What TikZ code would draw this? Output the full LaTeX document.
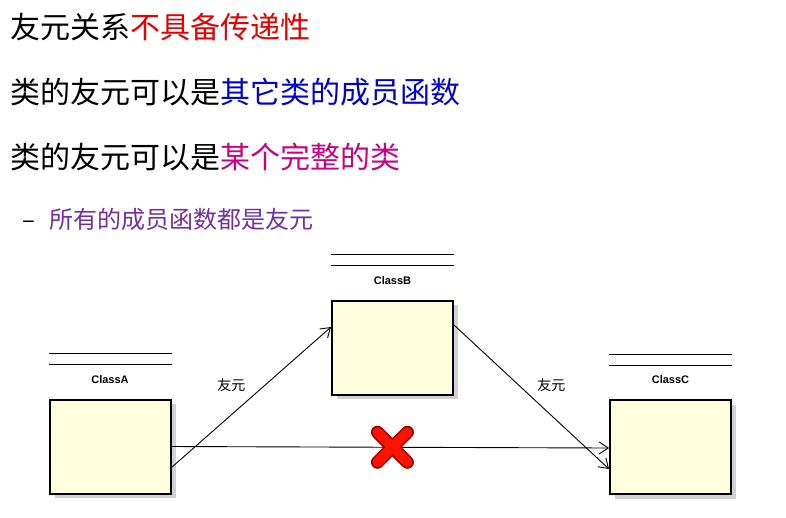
\documentclass[tikz,border=0pt]{standalone}
\usepackage{fontspec}
\setsansfont{Liberation Sans}
\newfontfamily\cjk{Noto Sans CJK SC}
\usetikzlibrary{arrows.meta,calc}
\definecolor{boxfill}{RGB}{255,255,222}
\definecolor{redtxt}{RGB}{230,0,0}
\definecolor{bluetxt}{RGB}{0,0,200}
\definecolor{pinktxt}{RGB}{200,0,130}
\definecolor{purpletxt}{RGB}{112,48,160}
\tikzset{every picture/.style={line width=0.75pt}}
\tikzset{
  classbox/.style={draw, line width=2pt, fill=boxfill, minimum width=121pt, minimum height=94pt, inner sep=0pt},
  shadowbox/.style={fill=black!18, minimum width=121pt, minimum height=94pt, inner sep=0pt},
  friend/.style={-{Straight Barb[length=9pt,width=12pt]}, line width=0.9pt},
}

\begin{document}
\begin{tikzpicture}[x=1pt,y=1pt,yscale=-1,xscale=1]
    \useasboundingbox (0,0) rectangle (786,517);

    % Text Node
    \node [anchor=west, inner sep=0pt] (t1) at (10,27) {\cjk\fontsize{30}{36}\selectfont 友元关系\textcolor{redtxt}{不具备传递性}};
    % Text Node
    \node [anchor=west, inner sep=0pt] (t2) at (10,92) {\cjk\fontsize{30}{36}\selectfont 类的友元可以是\textcolor{bluetxt}{其它类的成员函数}};
    % Text Node
    \node [anchor=west, inner sep=0pt] (t3) at (10,157) {\cjk\fontsize{30}{36}\selectfont 类的友元可以是\textcolor{pinktxt}{某个完整的类}};
    % Text Node
    \node [anchor=west, inner sep=0pt] (t4) at (22,219) {\cjk\fontsize{24}{30}\selectfont –\hspace{14pt}\textcolor{purpletxt}{所有的成员函数都是友元}};

    %Shape: Class boxes
    \node [shadowbox] at (115,451) {};
    \node [shadowbox] at (397,352) {};
    \node [shadowbox] at (675,452) {};
    \node [classbox] (a) at (110,446.5) {};
    \node [classbox] (b) at (392.5,347.5) {};
    \node [classbox] (c) at (670.5,447) {};
    \foreach \n/\t in {a/ClassA, b/ClassB, c/ClassC} {
        \node [font=\sffamily\bfseries\fontsize{11}{13}\selectfont] (\n-name) at ([yshift=-19pt]\n.north) {\t};
        \draw ([yshift=-34pt]\n.north west) -- ([yshift=-34pt]\n.north east);
        \draw ([yshift=-45pt]\n.north west) -- ([yshift=-45pt]\n.north east);
    }

    %Straight Lines
    \coordinate (a1) at ([yshift=21pt]a.east);
    \coordinate (a2) at (a.east);
    \coordinate (b1) at ([yshift=-20.5pt]b.west);
    \coordinate (b2) at ([yshift=-22.5pt]b.east);
    \coordinate (c1) at ([yshift=22pt]c.west);
    \coordinate (c2) at ([yshift=1pt]c.west);
    \draw [friend] (a1) -- (b1) node [midway, above left=2pt, font=\cjk\fontsize{14}{16}\selectfont] (ab) {友元};
    \draw [friend] (b2) -- (c1) node [midway, above right=2pt, font=\cjk\fontsize{14}{16}\selectfont] (bc) {友元};
    \draw [friend] (a2) -- (c2);

    %Shape: Cross
    \coordinate (x) at ($ (a2)!0.505!(c2) $);
    \draw [line width=13pt, line cap=round, red!55!black] ([shift={(-15,-15)}]x) -- ([shift={(15,15)}]x) ([shift={(-15,15)}]x) -- ([shift={(15,-15)}]x);
    \draw [line width=10pt, line cap=round, red!85!orange] ([shift={(-15,-15)}]x) -- ([shift={(15,15)}]x) ([shift={(-15,15)}]x) -- ([shift={(15,-15)}]x);
\end{tikzpicture}
\end{document}
